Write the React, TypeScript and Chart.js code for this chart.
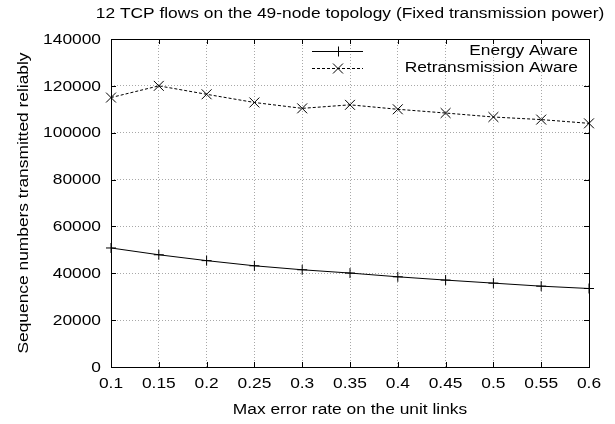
import React, { useEffect, useRef } from "react";
import { Chart, registerables } from "chart.js";

Chart.register(...registerables);

const errorRates = ["0.1", "0.15", "0.2", "0.25", "0.3", "0.35", "0.4", "0.45", "0.5", "0.55", "0.6"];
const energyAware = [50800, 47900, 45400, 43200, 41500, 40100, 38500, 37100, 35800, 34500, 33500];
const retransmissionAware = [115000, 120000, 116400, 112900, 110400, 111900, 110000, 108400, 106700, 105600, 104000];
const yMin = 0;
const yMax = 140000;
const yStep = 20000;

const titleText = "12 TCP flows on the 49-node topology (Fixed transmission power)";
const xTitle = "Max error rate on the unit links";
const yTitle = "Sequence numbers transmitted reliably";
const seriesNames = ["Energy Aware", "Retransmission Aware"];

const FONT = '"Liberation Sans", Arial, Helvetica, sans-serif';
const FS = 15.5;
const SX = 1.12;

function sText(ctx: CanvasRenderingContext2D, text: string, x: number, y: number, align: CanvasTextAlign, rot = 0) {
  ctx.save();
  ctx.translate(x, y);
  if (rot) ctx.rotate(rot);
  ctx.scale(SX, 1);
  ctx.textAlign = align;
  ctx.textBaseline = "middle";
  ctx.fillText(text, 0, 0);
  ctx.restore();
}

const decorPlugin = {
  id: "decor",
  beforeDatasetsDraw(chart: any) {
    const { ctx, chartArea } = chart;
    const { left, right, top, bottom } = chartArea;
    ctx.save();
    ctx.strokeStyle = "#000";
    ctx.lineWidth = 1;
    ctx.setLineDash([]);
    const xs = chart.scales.x;
    const ys = chart.scales.y;
    ctx.beginPath();
    xs.ticks.forEach((_t: any, i: number) => {
      const px = Math.round(xs.getPixelForTick(i)) + 0.5;
      ctx.moveTo(px, bottom);
      ctx.lineTo(px, bottom - 5);
      ctx.moveTo(px, top);
      ctx.lineTo(px, top + 5);
    });
    ys.ticks.forEach((_t: any, i: number) => {
      const py = Math.round(ys.getPixelForTick(i)) + 0.5;
      ctx.moveTo(left, py);
      ctx.lineTo(left + 5, py);
      ctx.moveTo(right, py);
      ctx.lineTo(right - 5, py);
    });
    ctx.stroke();
    ctx.strokeRect(Math.round(left) + 0.5, Math.round(top) + 0.5, Math.round(right - left), Math.round(bottom - top));
    ctx.restore();
  },
  afterDraw(chart: any) {
    const { ctx, chartArea } = chart;
    const cx = (chartArea.left + chartArea.right) / 2;
    const cy = (chartArea.top + chartArea.bottom) / 2;
    const xs = chart.scales.x;
    const ys = chart.scales.y;
    ctx.save();
    ctx.fillStyle = "#000";
    ctx.font = `${FS}px ${FONT}`;

    // tick labels
    xs.ticks.forEach((t: any, i: number) => {
      sText(ctx, String(t.label), xs.getPixelForTick(i), 384, "center");
    });
    ys.ticks.forEach((t: any, i: number) => {
      sText(ctx, String(t.value), 101, ys.getPixelForTick(i) + 0.5, "right");
    });

    // titles
    sText(ctx, titleText, cx, 14, "center");
    sText(ctx, xTitle, cx, 410, "center");
    sText(ctx, yTitle, 24, cy, "center", -Math.PI / 2);

    // legend
    const rows = [51, 68];
    const x0 = 312;
    const x1 = 363;
    const mx = 338;
    ctx.lineWidth = 1;
    ctx.strokeStyle = "#000";
    seriesNames.forEach((name, i) => {
      const y = rows[i] + 0.5;
      sText(ctx, name, 578, rows[i], "right");
      ctx.setLineDash(i === 0 ? [] : [3, 2]);
      ctx.beginPath();
      ctx.moveTo(x0, y);
      ctx.lineTo(x1, y);
      ctx.stroke();
      ctx.setLineDash([]);
      ctx.beginPath();
      if (i === 0) {
        ctx.moveTo(mx - 5, y);
        ctx.lineTo(mx + 5, y);
        ctx.moveTo(mx + 0.5, y - 5);
        ctx.lineTo(mx + 0.5, y + 5);
      } else {
        ctx.moveTo(mx - 5, y - 5);
        ctx.lineTo(mx + 5, y + 5);
        ctx.moveTo(mx - 5, y + 5);
        ctx.lineTo(mx + 5, y - 5);
      }
      ctx.stroke();
    });
    ctx.restore();
  },
};

export default function App() {
  const canvasRef = useRef<HTMLCanvasElement | null>(null);

  useEffect(() => {
    if (!canvasRef.current) return;
    const chart = new Chart(canvasRef.current, {
      type: "line",
      data: {
        labels: errorRates,
        datasets: [
          {
            label: seriesNames[0],
            data: energyAware,
            borderColor: "#000",
            backgroundColor: "#000",
            borderWidth: 1,
            pointStyle: "cross",
            pointRadius: 5,
            pointBorderWidth: 1,
            pointBorderColor: "#000",
            tension: 0,
          },
          {
            label: seriesNames[1],
            data: retransmissionAware,
            borderColor: "#000",
            backgroundColor: "#000",
            borderWidth: 1,
            borderDash: [3, 2],
            pointStyle: "crossRot",
            pointRadius: 7,
            pointBorderWidth: 1,
            pointBorderColor: "#000",
            tension: 0,
          },
        ],
      },
      options: {
        animation: false,
        responsive: true,
        maintainAspectRatio: false,
        layout: { padding: { left: 0, top: 39, right: 26, bottom: 0 } },
        plugins: {
          legend: { display: false },
          title: { display: false },
          tooltip: { enabled: false },
        },
        scales: {
          x: {
            type: "category",
            offset: false,
            grid: { color: "#a8a8a8", lineWidth: 1, drawTicks: false },
            border: { display: false, dash: [1, 2] },
            ticks: { display: false, autoSkip: false, maxRotation: 0 },
            afterFit(scale: any) {
              scale.height = 57;
            },
          },
          y: {
            min: yMin,
            max: yMax,
            grid: { color: "#a8a8a8", lineWidth: 1, drawTicks: false },
            border: { display: false, dash: [1, 2] },
            ticks: { display: false, stepSize: yStep },
            afterFit(scale: any) {
              scale.width = 111;
            },
          },
        },
      },
      plugins: [decorPlugin],
    });
    return () => chart.destroy();
  }, []);

  return (
    <div style={{ position: "absolute", left: 0, top: 0, width: 615, height: 424, background: "#fff" }}>
      <canvas ref={canvasRef} />
    </div>
  );
}
